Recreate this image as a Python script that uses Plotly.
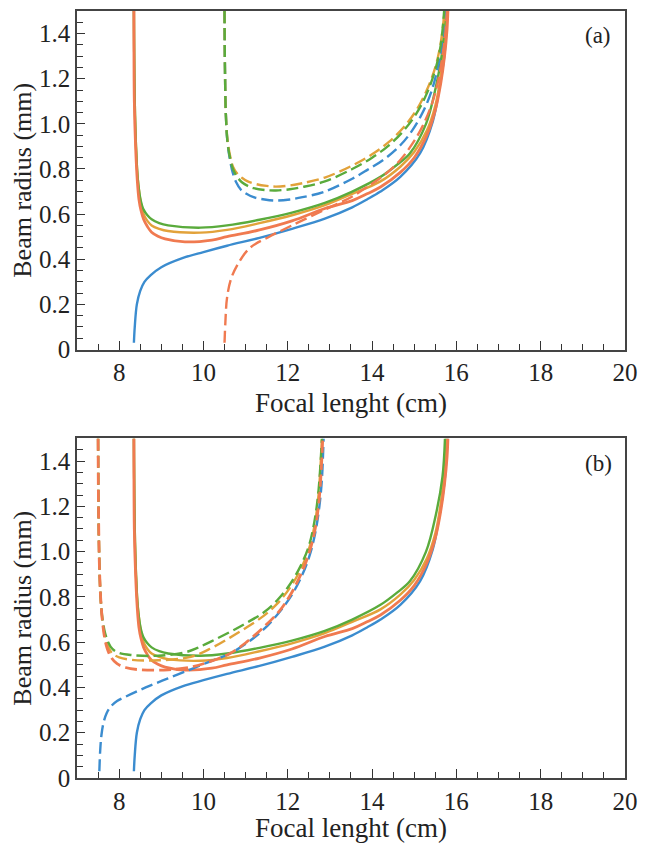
import plotly.graph_objects as go

# focal length (cm) / beam radius (mm)
# solid curves (same in both panels)
f_blue_solid = [8.35, 8.37, 8.42, 8.5, 8.6, 8.75, 9.0, 9.5, 10.0, 10.56, 11.33, 12.1, 12.88, 13.53, 13.88, 14.2, 14.67, 15.14, 15.44, 15.6, 15.72, 15.79]
r_blue_solid = [0.03, 0.10, 0.20, 0.26, 0.30, 0.33, 0.365, 0.405, 0.432, 0.46, 0.495, 0.535, 0.58, 0.63, 0.665, 0.70, 0.765, 0.87, 1.01, 1.16, 1.31, 1.5]

f_orange_solid = [8.35, 8.36, 8.39, 8.43, 8.47, 8.52, 8.58, 8.67, 8.77, 8.92, 9.09, 9.56, 10.2, 10.56, 11.33, 12.1, 12.88, 13.53, 13.88, 14.2, 14.67, 15.0, 15.3, 15.5, 15.63, 15.72, 15.78, 15.8]
r_orange_solid = [1.5, 1.1, 0.9, 0.75, 0.665, 0.615, 0.577, 0.545, 0.52, 0.502, 0.49, 0.477, 0.485, 0.50, 0.53, 0.57, 0.625, 0.66, 0.69, 0.72, 0.785, 0.85, 0.95, 1.06, 1.18, 1.3, 1.42, 1.5]

f_gold_solid = [8.35, 8.37, 8.4, 8.44, 8.49, 8.53, 8.58, 8.67, 8.77, 8.95, 9.16, 9.93, 10.56, 11.33, 12.1, 12.88, 13.53, 14.2, 14.67, 15.0, 15.3, 15.5, 15.62, 15.7, 15.76]
r_gold_solid = [1.5, 1.1, 0.9, 0.76, 0.68, 0.635, 0.60, 0.57, 0.55, 0.535, 0.525, 0.518, 0.53, 0.56, 0.595, 0.64, 0.69, 0.745, 0.81, 0.875, 0.97, 1.08, 1.2, 1.33, 1.5]

f_green_solid = [8.35, 8.37, 8.4, 8.44, 8.5, 8.54, 8.58, 8.67, 8.77, 8.95, 9.16, 9.93, 10.56, 11.33, 12.1, 12.88, 13.53, 14.2, 14.6, 14.9, 15.28, 15.51, 15.67, 15.73]
r_green_solid = [1.5, 1.1, 0.9, 0.76, 0.67, 0.64, 0.62, 0.595, 0.577, 0.56, 0.55, 0.54, 0.55, 0.575, 0.607, 0.65, 0.70, 0.765, 0.82, 0.87, 1.0, 1.16, 1.33, 1.5]

# dashed curves, panel (a)
f_orange_dash_a = [10.5, 10.52, 10.56, 10.65, 10.79, 11.1, 11.56, 12.1, 12.88, 13.5, 13.88, 14.3, 14.67, 14.95, 15.2, 15.44, 15.6, 15.7, 15.76]
r_orange_dash_a = [0.03, 0.12, 0.23, 0.31, 0.37, 0.45, 0.50, 0.55, 0.62, 0.675, 0.72, 0.775, 0.84, 0.91, 0.99, 1.1, 1.22, 1.35, 1.5]

f_blue_dash_a = [10.5, 10.51, 10.53, 10.57, 10.63, 10.7, 10.78, 10.88, 11.02, 11.19, 11.45, 11.72, 12.05, 12.35, 12.88, 13.53, 13.88, 14.3, 14.67, 14.95, 15.2, 15.42, 15.58, 15.67, 15.72]
r_blue_dash_a = [1.5, 1.25, 1.05, 0.92, 0.84, 0.78, 0.74, 0.71, 0.69, 0.675, 0.665, 0.66, 0.665, 0.675, 0.70, 0.757, 0.795, 0.845, 0.905, 0.97, 1.05, 1.15, 1.27, 1.38, 1.5]

f_gold_dash_a = [10.5, 10.51, 10.53, 10.57, 10.63, 10.7, 10.8, 10.92, 11.05, 11.25, 11.5, 11.72, 12.05, 12.35, 12.88, 13.53, 14.0, 14.4, 14.75, 15.05, 15.3, 15.5, 15.63, 15.72]
r_gold_dash_a = [1.5, 1.25, 1.05, 0.93, 0.86, 0.81, 0.78, 0.76, 0.745, 0.733, 0.725, 0.722, 0.727, 0.737, 0.762, 0.815, 0.865, 0.92, 0.985, 1.06, 1.15, 1.25, 1.36, 1.5]

f_green_dash_a = [10.5, 10.51, 10.53, 10.57, 10.63, 10.7, 10.8, 10.92, 11.05, 11.19, 11.45, 11.72, 12.05, 12.35, 12.88, 13.53, 14.0, 14.4, 14.75, 15.05, 15.3, 15.5, 15.63, 15.71]
r_green_dash_a = [1.5, 1.25, 1.05, 0.92, 0.85, 0.8, 0.765, 0.74, 0.725, 0.715, 0.707, 0.705, 0.71, 0.72, 0.745, 0.80, 0.85, 0.905, 0.97, 1.045, 1.135, 1.24, 1.35, 1.5]

# dashed curves, panel (b)
f_blue_dash_b = [7.53, 7.55, 7.58, 7.63, 7.7, 7.8, 7.95, 8.16, 8.63, 9.16, 9.7, 10.09, 10.63, 11.02, 11.42, 11.79, 12.1, 12.35, 12.53, 12.66, 12.75, 12.81, 12.85]
r_blue_dash_b = [0.03, 0.12, 0.19, 0.245, 0.285, 0.315, 0.34, 0.36, 0.40, 0.44, 0.48, 0.51, 0.55, 0.595, 0.655, 0.73, 0.81, 0.9, 0.99, 1.09, 1.2, 1.32, 1.5]

f_orange_dash_b = [7.5, 7.51, 7.53, 7.56, 7.6, 7.65, 7.72, 7.82, 7.95, 8.15, 8.5, 9.16, 9.7, 10.09, 10.63, 11.02, 11.42, 11.79, 12.05, 12.3, 12.5, 12.65, 12.75, 12.83]
r_orange_dash_b = [1.5, 1.2, 0.95, 0.8, 0.7, 0.625, 0.57, 0.53, 0.505, 0.488, 0.478, 0.478, 0.49, 0.51, 0.55, 0.60, 0.665, 0.735, 0.805, 0.895, 0.99, 1.1, 1.24, 1.5]

f_gold_dash_b = [7.5, 7.51, 7.53, 7.56, 7.6, 7.66, 7.74, 7.84, 8.0, 8.3, 8.93, 9.7, 10.2, 10.63, 11.02, 11.42, 11.75, 12.05, 12.3, 12.5, 12.63, 12.73, 12.81]
r_gold_dash_b = [1.5, 1.2, 0.95, 0.8, 0.7, 0.63, 0.58, 0.55, 0.533, 0.522, 0.52, 0.535, 0.575, 0.62, 0.665, 0.715, 0.77, 0.84, 0.92, 1.01, 1.11, 1.25, 1.5]

f_green_dash_b = [7.5, 7.51, 7.53, 7.56, 7.6, 7.66, 7.74, 7.84, 8.0, 8.3, 8.93, 9.56, 9.86, 10.2, 10.63, 11.02, 11.42, 11.75, 12.05, 12.3, 12.5, 12.63, 12.73, 12.81]
r_green_dash_b = [1.5, 1.2, 0.95, 0.8, 0.71, 0.645, 0.6, 0.57, 0.552, 0.543, 0.54, 0.555, 0.575, 0.605, 0.645, 0.685, 0.73, 0.785, 0.855, 0.935, 1.025, 1.13, 1.27, 1.5]

x_tickvals = [8, 10, 12, 14, 16, 18, 20]
x_ticktext = ["8", "10", "12", "14", "16", "18", "20"]
y_tickvals = [0, 0.2, 0.4, 0.6, 0.8, 1.0, 1.2, 1.4]
y_ticktext = ["0", "0.2", "0.4", "0.6", "0.8", "1.0", "1.2", "1.4"]
panel_labels = ["(a)", "(b)"]

BLUE = "#3b8ccf"
ORANGE = "#f07a50"
GOLD = "#e2a23a"
GREEN = "#5aab3c"
DASH = "12px,5px"
FONT = "Liberation Serif"

fig = go.Figure()


def add_curve(x, y, color, axis, dash="solid", width=2.4):
    fig.add_trace(go.Scatter(
        x=x, y=y, mode="lines",
        line=dict(color=color, width=width, dash=dash, shape="spline", smoothing=1.0),
        xaxis="x" + axis, yaxis="y" + axis, showlegend=False, hoverinfo="skip",
    ))


for ax in ["", "2"]:
    add_curve(f_blue_solid, r_blue_solid, BLUE, ax)
    add_curve(f_gold_solid, r_gold_solid, GOLD, ax)
    add_curve(f_green_solid, r_green_solid, GREEN, ax)
    add_curve(f_orange_solid, r_orange_solid, ORANGE, ax, width=2.8)

add_curve(f_orange_dash_a, r_orange_dash_a, ORANGE, "", DASH)
add_curve(f_blue_dash_a, r_blue_dash_a, BLUE, "", DASH)
add_curve(f_gold_dash_a, r_gold_dash_a, GOLD, "", DASH)
add_curve(f_green_dash_a, r_green_dash_a, GREEN, "", DASH)

add_curve(f_blue_dash_b, r_blue_dash_b, BLUE, "2", DASH)
add_curve(f_gold_dash_b, r_gold_dash_b, GOLD, "2", DASH)
add_curve(f_green_dash_b, r_green_dash_b, GREEN, "2", DASH)
add_curve(f_orange_dash_b, r_orange_dash_b, ORANGE, "2", DASH, width=2.8)

xaxis_style = dict(
    range=[7, 20.001], tickvals=x_tickvals, ticktext=x_ticktext,
    ticks="inside", ticklen=9, tickwidth=1.3, tickcolor="#333",
    minor=dict(ticks="inside", ticklen=6, tickwidth=1.1, tickcolor="#333", tick0=7, dtick=0.5),
    showline=True, linecolor="#444", linewidth=1.5, mirror=True,
    showgrid=False, zeroline=False, ticklabeloverflow="allow",
    tickfont=dict(family=FONT, size=25, color="#222"),
    title=dict(text="Focal lenght (cm)", font=dict(family=FONT, size=27, color="#222"), standoff=8),
)
yaxis_style = dict(
    range=[0, 1.5], tickvals=y_tickvals, ticktext=y_ticktext,
    ticks="inside", ticklen=8, tickwidth=1.3, tickcolor="#333",
    minor=dict(ticks="inside", ticklen=6, tickwidth=1.1, tickcolor="#333", tick0=0, dtick=0.05),
    showline=True, linecolor="#444", linewidth=1.5, mirror=True,
    showgrid=False, zeroline=False,
    tickfont=dict(family=FONT, size=25, color="#222"),
    title=dict(text="Beam radius (mm)", font=dict(family=FONT, size=26, color="#222"), standoff=5),
)

# the page has an 8px body margin: figure is 16px smaller than the window
# and laid out 8px up-left so nothing overflows
fig.update_layout(
    width=630, height=835,
    margin=dict(l=69, r=5, t=1, b=57),
    paper_bgcolor="white", plot_bgcolor="white",
    xaxis=dict(xaxis_style, domain=[0, 1], anchor="y"),
    yaxis=dict(yaxis_style, domain=[0.5586, 1], anchor="x"),
    xaxis2=dict(xaxis_style, domain=[0, 1], anchor="y2"),
    yaxis2=dict(yaxis_style, domain=[0, 0.4427], anchor="x2"),
)

for i, ax in enumerate(["x", "x2"]):
    yref = "y" if ax == "x" else "y2"
    fig.add_annotation(
        text=panel_labels[i], xref=ax + " domain", yref=yref + " domain",
        x=0.951, y=0.927, xanchor="center", yanchor="middle", showarrow=False,
        font=dict(family=FONT, size=23, color="#222"),
    )

fig.write_html("out.html")
